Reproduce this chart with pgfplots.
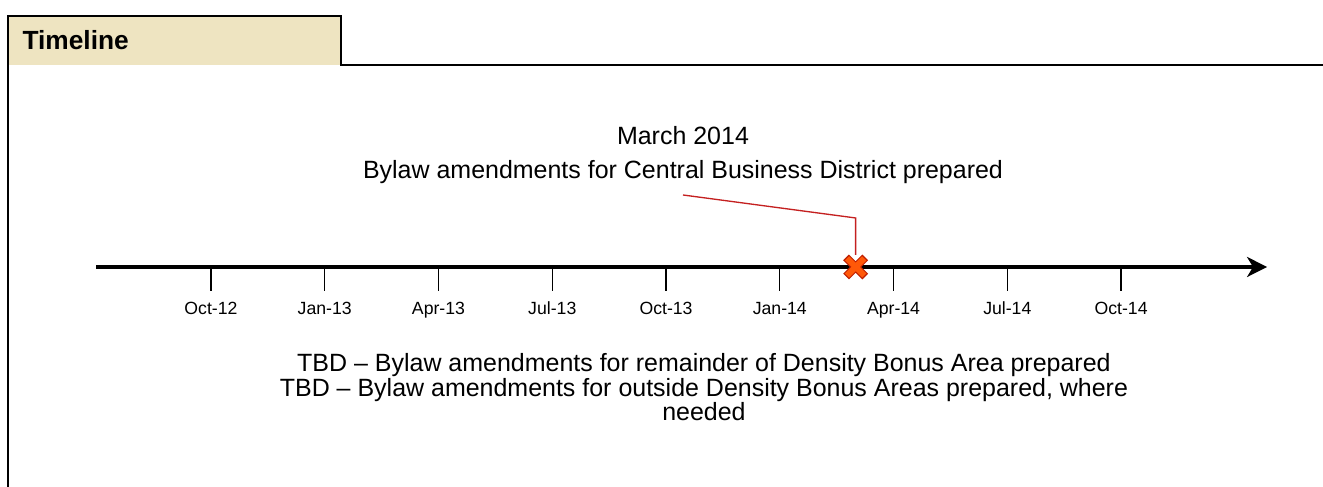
\documentclass[border=0pt]{standalone}
\usepackage{pgfplots}
\pgfplotsset{compat=1.18}
\usepackage{fontspec}
\setmainfont{Liberation Sans}
\usetikzlibrary{arrows.meta}

\definecolor{hdrfill}{RGB}{238,228,193}
\definecolor{leadred}{RGB}{196,32,32}
\definecolor{xorange}{RGB}{255,88,8}
\definecolor{xdark}{RGB}{190,30,0}

% fat two-tone X for the milestone
\pgfdeclareplotmark{fatx}{%
  \pgfsetbuttcap
  \pgfsetlinewidth{3.1pt}\pgfsetstrokecolor{xdark}%
  \pgfpathmoveto{\pgfqpoint{-3.6pt}{-3.6pt}}\pgfpathlineto{\pgfqpoint{3.6pt}{3.6pt}}%
  \pgfpathmoveto{\pgfqpoint{-3.6pt}{3.6pt}}\pgfpathlineto{\pgfqpoint{3.6pt}{-3.6pt}}%
  \pgfusepath{stroke}%
  \pgfsetlinewidth{2.2pt}\pgfsetstrokecolor{xorange}%
  \pgfpathmoveto{\pgfqpoint{-3.25pt}{-3.25pt}}\pgfpathlineto{\pgfqpoint{3.25pt}{3.25pt}}%
  \pgfpathmoveto{\pgfqpoint{-3.25pt}{3.25pt}}\pgfpathlineto{\pgfqpoint{3.25pt}{-3.25pt}}%
  \pgfusepath{stroke}%
}

\newcommand{\mainfs}{\fontsize{9.4pt}{11pt}\selectfont}

\begin{document}
\begin{tikzpicture}
\begin{axis}[
  scale only axis,
  width=15.49cm, height=6.4418cm,
  xmin=-3.03, xmax=27.85,
  ymin=-220, ymax=267,
  clip=false,
  axis x line=middle,
  axis y line=none,
  x axis line style={line width=1.7pt, -{Stealth[length=7.5pt, width=7.5pt, inset=2.2pt]}},
  xtick={0,3,6,9,12,15,18,21,24},
  xticklabels={Oct-12,Jan-13,Apr-13,Jul-13,Oct-13,Jan-14,Apr-14,Jul-14,Oct-14},
  tick align=outside,
  major tick length=9pt,
  xtick style={black, line width=0.45pt},
  xticklabel style={font=\fontsize{6.65pt}{8pt}\selectfont, anchor=base, yshift=-9pt},
  ytick=\empty,
]
% frame and header tab
\fill[hdrfill] (axis cs:-5.353,251) rectangle (axis cs:3.428,202);
\draw[line width=0.75pt] (axis cs:-5.353,-220) -- (axis cs:-5.353,251) -- (axis cs:3.428,251)
  -- (axis cs:3.428,202) -- (axis cs:29.325,202);
\node[anchor=base west, inner sep=0pt, font=\fontsize{9.9pt}{12pt}\selectfont\bfseries]
  at (axis cs:-4.984,217) {Timeline};

% leader line to the milestone
\addplot[leadred, line width=0.5pt] coordinates {(12.447,72) (17,49) (17,12)};
% milestone: March 2014
\addplot[only marks, mark=fatx] coordinates {(17,0)};

\node[anchor=base, inner sep=0pt, font=\mainfs] at (axis cs:12.447,122.5) {March 2014};
\node[anchor=base, inner sep=0pt, font=\mainfs] at (axis cs:12.447,88.5)
  {Bylaw amendments for Central Business District prepared};

\node[anchor=base, inner sep=0pt, font=\mainfs] at (axis cs:13.0,-105)
  {TBD – Bylaw amendments for remainder of Density Bonus Area prepared};
\node[anchor=base, inner sep=0pt, font=\mainfs] at (axis cs:13.0,-129.5)
  {TBD – Bylaw amendments for outside Density Bonus Areas prepared, where};
\node[anchor=base, inner sep=0pt, font=\mainfs] at (axis cs:13.0,-154)
  {needed};

\coordinate (bl) at (axis cs:-5.564,-220);
\coordinate (tr) at (axis cs:29.325,267);
\end{axis}
\pgfresetboundingbox
\path[use as bounding box] (bl) rectangle (tr);
\end{tikzpicture}
\end{document}
